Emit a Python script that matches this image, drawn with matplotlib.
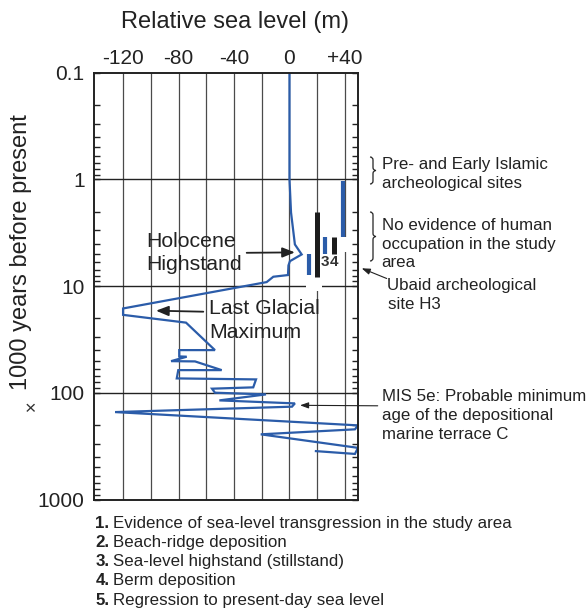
import matplotlib
matplotlib.use('Agg')
import matplotlib.pyplot as plt
from matplotlib.patches import Rectangle, PathPatch
from matplotlib.path import Path

plt.rcParams['font.family'] = ['Liberation Sans', 'DejaVu Sans']
plt.rcParams['text.color'] = '#222222'

# ---- data -------------------------------------------------------------
# sea-level curve: age (x1000 years BP) and relative sea level (m)
age_ka = [0.1, 1.0, 2.04, 4.07, 5.05, 5.84, 6.40, 7.88, 8.17, 9.17,
          16.2, 18.6, 22.0, 39.8, 39.8, 45.6, 45.9, 50.5, 50.8, 61.3,
          61.3, 73.3, 74.9, 88.9, 91.5, 99.8, 103.5, 117.8, 125.7, 134.9,
          151.6, 202, 220, 245, 328, 374, 352]
sea_level_m = [0.1, 0.1, 1.2, 4.0, 8.9, 0.4, -0.65, -1.0, -11.6, -16.4,
               -120.2, -120.2, -74.7, -53.8, -79.6, -79.6, -74.2, -85.5, -68.2, -48.9,
               -80.3, -81.4, -24.1, -26.1, -55.9, -53.8, -16.9, -50.6, 4.0, 1.9,
               -126.0, 49.6, 47.4, -20.7, 49.6, 47.4, 19.2]

# evidence bars (numbered 1-5)
bar_ids = ['1', '2', '3', '4', '5']
bar_level = [14, 20, 26, 32.5, 38.5]
bar_start_ka = [5.05, 2.02, 3.44, 3.44, 1.04]
bar_end_ka = [7.94, 8.17, 5.05, 5.05, 3.44]
bar_is_blue = [True, False, True, False, True]
bar_shown_labels = ['3', '4']

x_tick_values = [-120, -80, -40, 0, 40]
x_tick_labels = ['-120', '-80', '-40', '0', '+40']
x_grid_values = [-120, -100, -80, -60, -40, -20, 0, 20, 40]
y_tick_values = [0.1, 1, 10, 100, 1000]
y_tick_labels = ['0.1', '1', '10', '100', '1000']
y_grid_values = [1, 10, 100]

legend_nums = ['1.', '2.', '3.', '4.', '5.']
legend_texts = ['Evidence of sea-level transgression in the study area',
                'Beach-ridge deposition',
                'Sea-level highstand (stillstand)',
                'Berm deposition',
                'Regression to present-day sea level']

BLUE = '#2b5ca9'
DARK = '#1c1c1c'

# ---- figure -----------------------------------------------------------
W, H = 588, 609
fig = plt.figure(figsize=(W / 100, H / 100), dpi=100)
L, R, T, B = 94.3, 357.7, 72.7, 499.5
ax = fig.add_axes([L / W, 1 - B / H, (R - L) / W, (B - T) / H])
ax.set_yscale('log')
ax.set_xlim(-141, 49.4)
ax.set_ylim(1000, 0.1)

for gx in x_grid_values:
    ax.axvline(gx, color='#4a4a4a', lw=0.9, zorder=1)
for gy in y_grid_values:
    ax.axhline(gy, color='#222222', lw=1.0, zorder=1)

# white gaps in the grid
ax.add_patch(Rectangle((12, 8.3), 11.6, 2.9, facecolor='white', edgecolor='none', zorder=2))
ax.add_patch(Rectangle((37.5, 3.44), 5, 1.3, facecolor='white', edgecolor='none', zorder=2))

ax.plot(sea_level_m, age_ka, color=BLUE, lw=1.6, zorder=4, solid_joinstyle='miter')

for lvl, s, e, blue in zip(bar_level, bar_start_ka, bar_end_ka, bar_is_blue):
    ax.plot([lvl, lvl], [s, e], color=BLUE if blue else DARK,
            lw=3.0 if blue else 3.6, solid_capstyle='butt', zorder=3)

for lab in bar_shown_labels:
    i = bar_ids.index(lab)
    ax.text(bar_level[i], 6.0, lab, ha='center', va='center', fontsize=11,
            fontweight='bold', color='#333333', zorder=5)

ax.xaxis.tick_top()
ax.set_xticks(x_tick_values)
ax.set_xticklabels(x_tick_labels)
ax.tick_params(axis='x', length=0, pad=3.6, labelsize=15, labelcolor='#222222')
ax.set_yticks(y_tick_values)
ax.set_yticklabels(y_tick_labels)
ax.tick_params(axis='y', which='both', direction='in', left=True, right=True,
               width=1.0, color='#222222')
ax.tick_params(axis='y', which='major', length=4, pad=7, labelsize=15, labelcolor='#222222')
ax.tick_params(axis='y', which='minor', length=4.5)
for sp in ax.spines.values():
    sp.set_linewidth(1.4)
    sp.set_color('#222222')
    sp.set_zorder(6)

# ---- overlay in pixel coordinates for annotations ----------------------
ov = fig.add_axes([0, 0, 1, 1], zorder=10)
ov.set_xlim(0, W)
ov.set_ylim(H, 0)
ov.axis('off')
ov.patch.set_alpha(0)

ov.text(235, 28.3, 'Relative sea level (m)', ha='center', va='baseline', fontsize=17)
ov.text(21, 252, '1000 years before present', ha='center', va='center',
        rotation=90, fontsize=17)
ov.text(30.7, 410, '\u00d7', ha='center', va='center', fontsize=14,
        color='#333333', fontweight='light')

ov.text(146.5, 246.7, 'Holocene', ha='left', va='baseline', fontsize=15.3)
ov.text(146.5, 270, 'Highstand', ha='left', va='baseline', fontsize=15.3)
ov.text(209.3, 314.3, 'Last Glacial', ha='left', va='baseline', fontsize=15.3)
ov.text(209.3, 337.7, 'Maximum', ha='left', va='baseline', fontsize=15.3)

ov.annotate('', xy=(4.0, 4.83), xycoords=ax.transData, xytext=(246.7, 252.8),
            textcoords='data',
            arrowprops=dict(arrowstyle='-|>,head_length=0.75,head_width=0.3',
                            mutation_scale=10, lw=1.3, color='#222222',
                            shrinkA=0, shrinkB=0))
ov.annotate('', xy=(-96.4, 17.0), xycoords=ax.transData, xytext=(203.3, 311.7),
            textcoords='data',
            arrowprops=dict(arrowstyle='-|>,head_length=0.75,head_width=0.3',
                            mutation_scale=10, lw=1.3, color='#222222',
                            shrinkA=0, shrinkB=0))
ov.annotate('', xy=(7.7, 131), xycoords=ax.transData, xytext=(377.7, 405.8),
            textcoords='data',
            arrowprops=dict(arrowstyle='-|>,head_length=0.5,head_width=0.18',
                            mutation_scale=10, lw=0.8, color='#222222',
                            shrinkA=0, shrinkB=0))
ov.annotate('', xy=(361.7, 268.3), xytext=(386.7, 278.5),
            arrowprops=dict(arrowstyle='-|>,head_length=0.5,head_width=0.18',
                            mutation_scale=10, lw=0.8, color='#222222',
                            shrinkA=0, shrinkB=0))


def brace(x, y0, y1, w=6):
    ym = (y0 + y1) / 2
    h = w / 2
    verts = [(x, y0), (x + h, y0), (x + h, y0 + h),
             (x + h, ym - h),
             (x + h, ym), (x + w, ym),
             (x + h, ym), (x + h, ym + h),
             (x + h, y1 - h),
             (x + h, y1), (x, y1)]
    codes = [Path.MOVETO, Path.CURVE3, Path.CURVE3,
             Path.LINETO,
             Path.CURVE3, Path.CURVE3,
             Path.CURVE3, Path.CURVE3,
             Path.LINETO,
             Path.CURVE3, Path.CURVE3]
    ov.add_patch(PathPatch(Path(verts, codes), facecolor='none',
                           edgecolor='#222222', lw=0.9))


brace(370, 157, 184)
brace(370, 212, 261)

side_fs = 12.2
ov.text(381.5, 169, 'Pre- and Early Islamic', va='baseline', fontsize=side_fs)
ov.text(381.5, 188.4, 'archeological sites', va='baseline', fontsize=side_fs)
ov.text(381.5, 230, 'No evidence of human', va='baseline', fontsize=side_fs)
ov.text(381.5, 248.5, 'occupation in the study', va='baseline', fontsize=side_fs)
ov.text(381.5, 267, 'area', va='baseline', fontsize=side_fs)
ov.text(387, 290.4, 'Ubaid archeological', va='baseline', fontsize=side_fs)
ov.text(388, 308.7, 'site H3', va='baseline', fontsize=side_fs)
ov.text(381.5, 401, 'MIS 5e: Probable minimum', va='baseline', fontsize=side_fs)
ov.text(381.5, 420, 'age of the depositional', va='baseline', fontsize=side_fs)
ov.text(381.5, 438.7, 'marine terrace C', va='baseline', fontsize=side_fs)

for k, (num, txt) in enumerate(zip(legend_nums, legend_texts)):
    yb = 527.8 + k * 19.2
    ov.text(95.5, yb, num, va='baseline', fontsize=side_fs, fontweight='bold')
    ov.text(113.3, yb, txt, va='baseline', fontsize=side_fs)

fig.savefig('out.png', dpi=100)
